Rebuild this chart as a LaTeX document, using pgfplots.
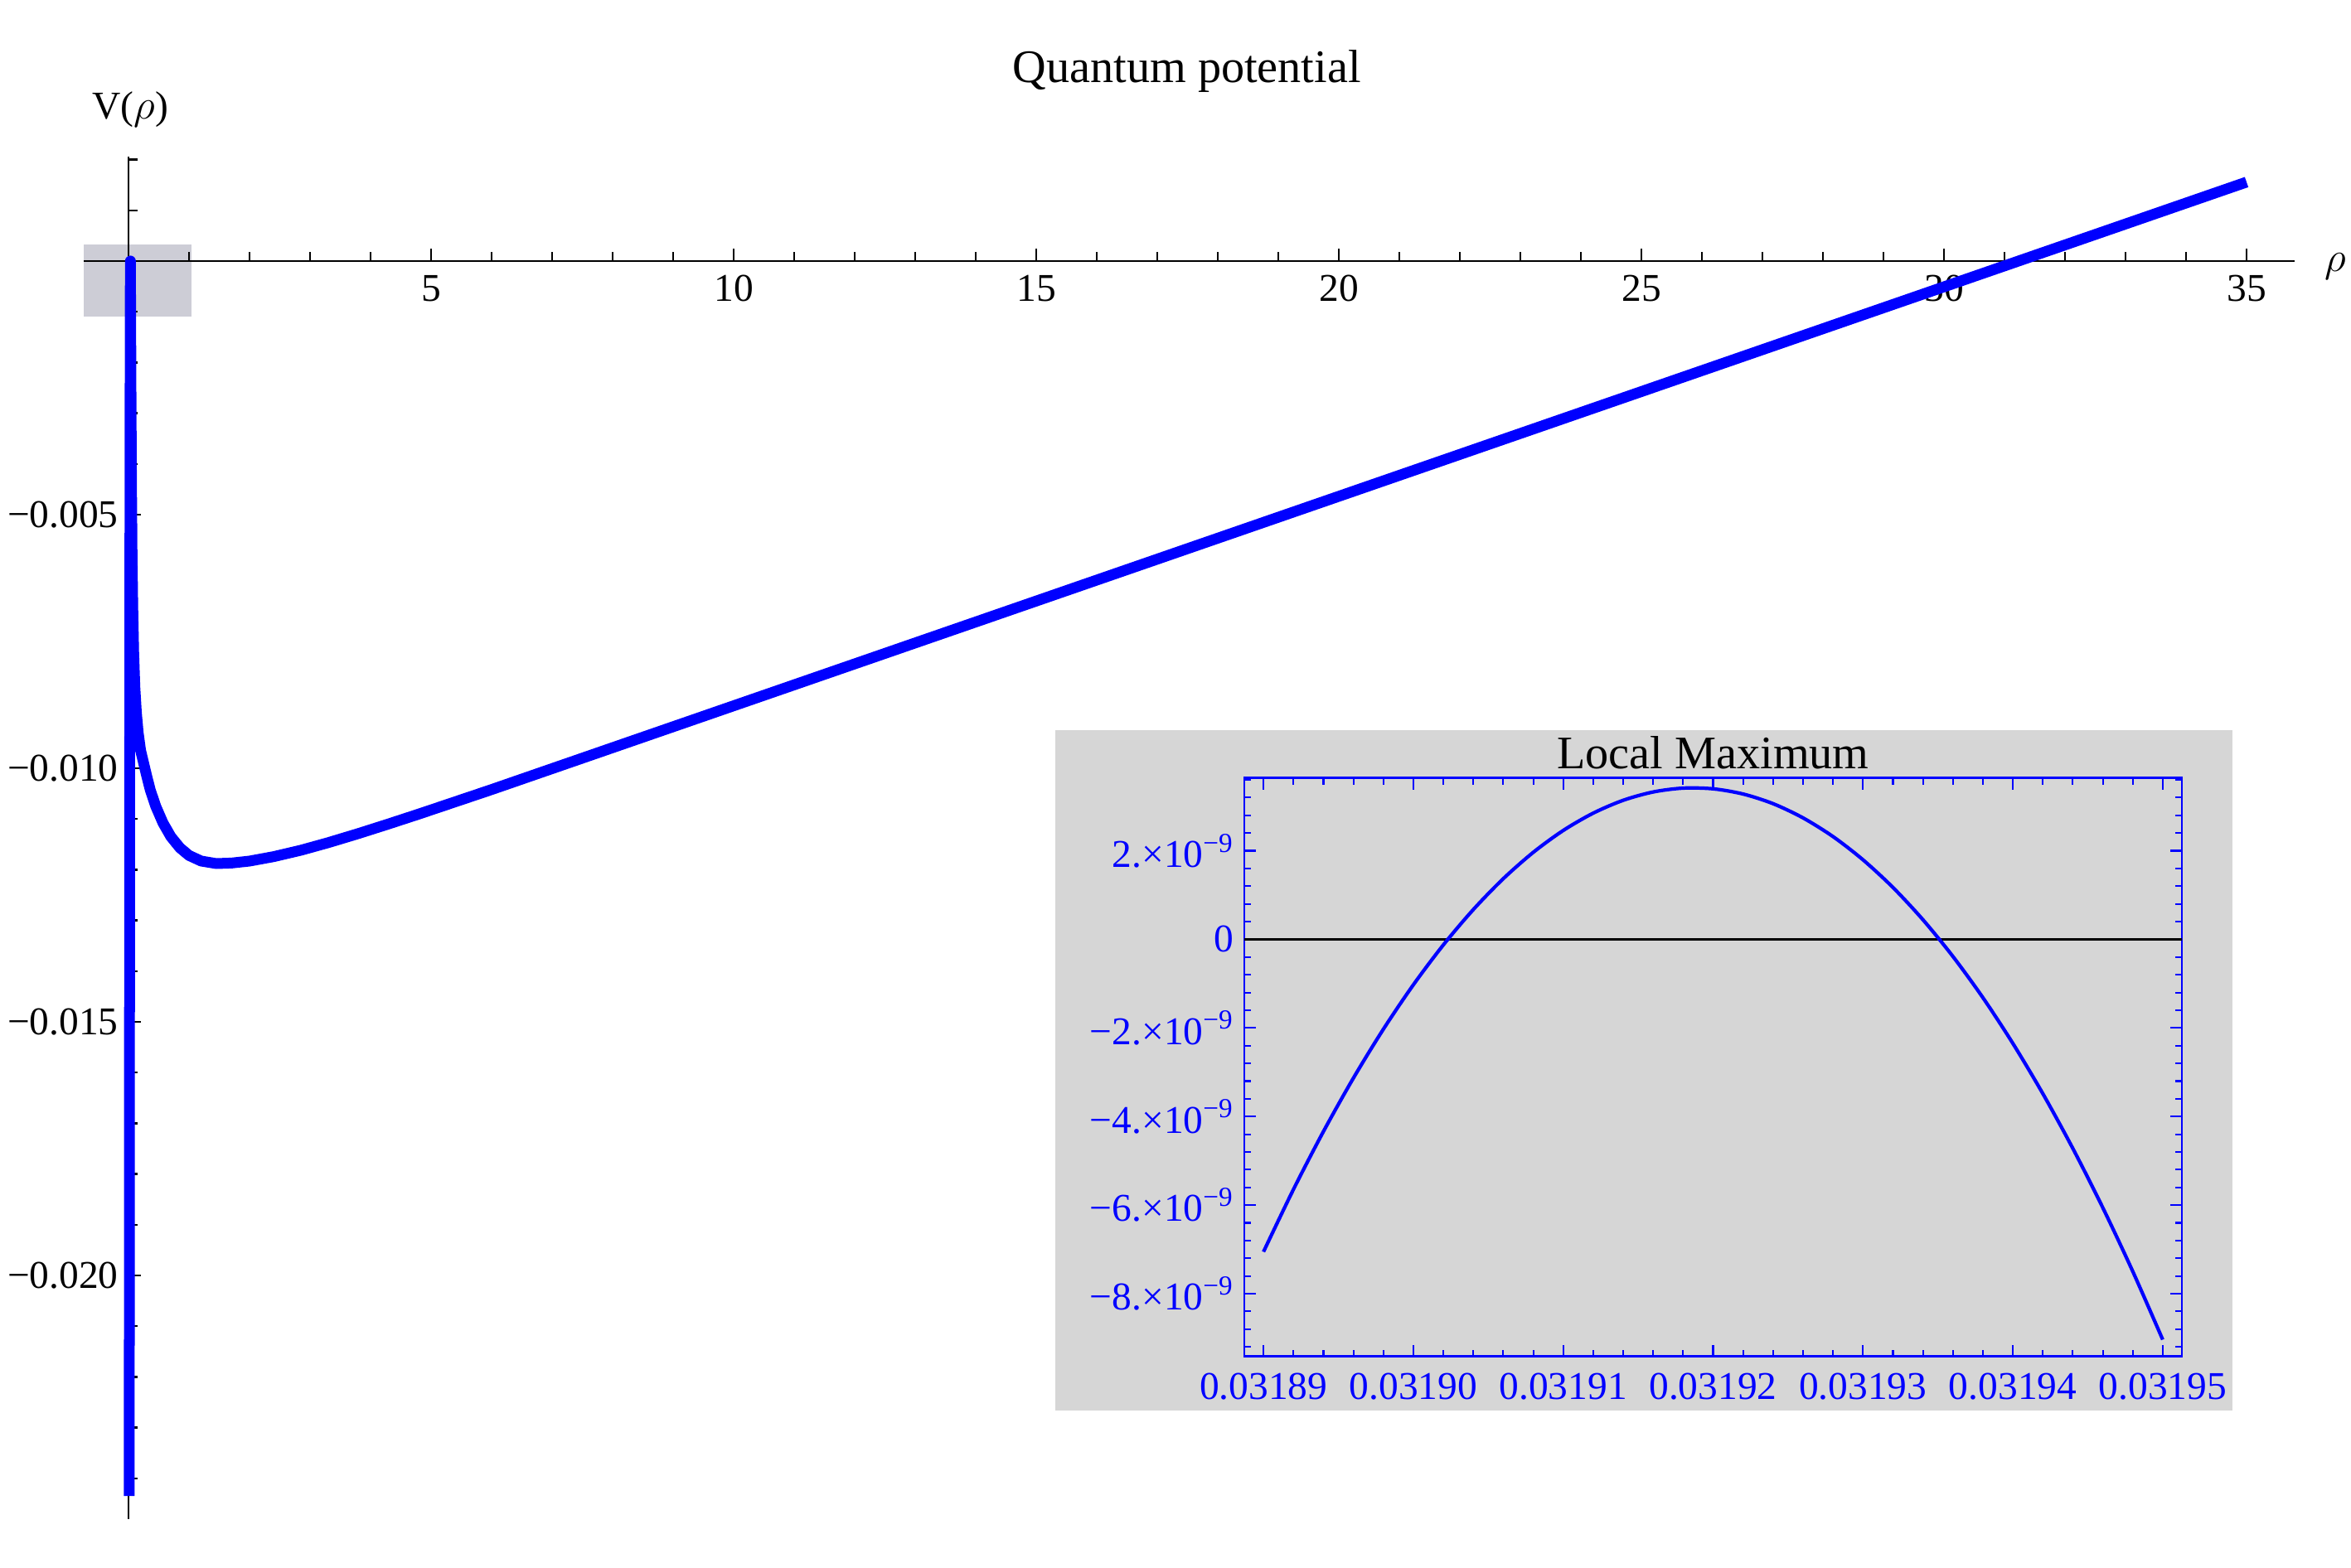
\documentclass[border=0pt]{standalone}
\usepackage{fontspec}
\setmainfont{Liberation Serif}
\usepackage{pgfplots}
\pgfplotsset{compat=1.18}
\usetikzlibrary{calc}
\definecolor{boxgray}{RGB}{205,205,214}
\definecolor{insetgray}{RGB}{214,214,214}
\newcommand{\tickfont}{\fontsize{13.5}{16}\selectfont}
\newcommand{\titlefont}{\fontsize{16}{19}\selectfont}
\begin{document}
\begin{tikzpicture}
\begin{axis}[
  name=main, set layers, scale only axis,
  width=26.674cm, height=16.432cm,
  xmin=-0.74, xmax=35.80, ymin=-0.0248, ymax=0.00205,
  axis lines=middle, axis line style={-, line width=0.8pt, black},
  clip=false, scaled ticks=false,
  /pgf/number format/assume math mode=true,
  xtick={5,10,15,20,25,30,35},
  xticklabels={5,10,15,20,25,30,35},
  xticklabel style={yshift=-0.05cm},
  minor xtick={1,2,...,34},
  ytick={-0.02,-0.015,-0.01,-0.005},
  yticklabels={−0.020,−0.015,−0.010,−0.005},
  minor ytick={-0.024,-0.023,-0.022,-0.021,-0.019,-0.018,-0.017,-0.016,-0.014,-0.013,-0.012,-0.011,-0.009,-0.008,-0.007,-0.006,-0.004,-0.003,-0.002,-0.001,0.001,0.002},
  tick align=inside, major tick length=0.15cm, minor tick length=0.11cm,
  every tick/.style={black, line width=0.7pt},
  tick label style={font=\tickfont},
]
\begin{pgfonlayer}{axis background}
\fill[boxgray] (axis cs:-0.74,0.00033) rectangle (axis cs:1.04,-0.0011);
\end{pgfonlayer}
\fill[insetgray] (axis cs:15.315,-0.009248) rectangle (axis cs:34.767,-0.022663);
\addplot[blue, line width=3.7pt, line join=round, mark=none] table {
x y
0.0120 -0.02435
0.0150 -0.0180
0.0190 -0.0110
0.0230 -0.0060
0.0270 -0.0025
0.0300 -0.0007
0.0319 0.0000
0.0350 -0.0010
0.0400 -0.0024
0.0480 -0.0042
0.0580 -0.0057
0.0700 -0.0068
0.0850 -0.0077
0.1050 -0.0084
0.1300 -0.0089
0.1600 -0.0093
0.2000 -0.00965
0.2500 -0.0099
0.3000 -0.01015
0.3600 -0.01043
0.4500 -0.01075
0.5700 -0.01108
0.7000 -0.01135
0.8500 -0.01157
1.0000 -0.01172
1.2000 -0.01183
1.4500 -0.01188
1.7000 -0.01187
2.0000 -0.011831
2.4000 -0.011743
2.8500 -0.011617
3.3000 -0.011468
3.8000 -0.011288
4.3000 -0.011098
4.8000 -0.010903
6.0000 -0.010421
7.0000 -0.010008
8.0000 -0.009595
10.000 -0.008769
12.000 -0.007943
14.000 -0.007117
17.000 -0.005878
20.000 -0.004639
24.000 -0.002987
28.000 -0.001335
31.000 -0.000096
35.000 0.001556
};
\node[font=\titlefont] at (axis cs:17.49,0.00374) {Quantum potential};
\node[font=\tickfont] at (axis cs:0.03,0.00299) {V($\rho$)};
\node[font=\tickfont] at (axis cs:36.47,-0.0001) {$\rho$};
\end{axis}
\begin{axis}[
  at={($(main.south west)+(14.00cm,1.958cm)$)}, anchor=south west,
  scale only axis, width=11.31cm, height=6.98cm,
  xmin=-0.128, xmax=6.128, ymin=-9.42, ymax=3.64,
  axis line style={blue, line width=0.8pt},
  scaled ticks=false, tick pos=both,
  /pgf/number format/assume math mode=true,
  xtick={0,1,2,3,4,5,6},
  xticklabels={0.03189,0.03190,0.03191,0.03192,0.03193,0.03194,0.03195},
  xticklabel style={yshift=-0.08cm},
  minor xtick={0,0.2,...,6},
  ytick={-8,-6,-4,-2,0,2},
  yticklabels={−8.×10\textsuperscript{−9},−6.×10\textsuperscript{−9},−4.×10\textsuperscript{−9},−2.×10\textsuperscript{−9},0,2.×10\textsuperscript{−9}},
  minor ytick={-9.2,-8.8,...,3.6},
  tick align=inside, major tick length=0.14cm, minor tick length=0.08cm,
  every tick/.style={blue, line width=0.6pt},
  tick label style={font=\tickfont, blue},
  title={Local Maximum},
  title style={font=\titlefont, at={(0.5,1)}, anchor=base, yshift=-0.1cm},
]
\addplot[black, line width=0.7pt, mark=none] coordinates {(-0.128,0) (6.128,0)};
\addplot[blue, line width=1.2pt, mark=none, smooth] table {
x y
0.0 -7.054
0.2 -5.645
0.4 -4.338
0.6 -3.132
0.8 -2.028
1.0 -1.026
1.2 -0.126
1.4 0.672
1.6 1.369
1.8 1.964
2.0 2.458
2.2 2.849
2.4 3.139
2.6 3.327
2.8 3.414
3.0 3.398
3.2 3.281
3.4 3.063
3.6 2.742
3.8 2.320
4.0 1.796
4.2 1.171
4.4 0.443
4.6 -0.386
4.8 -1.316
5.0 -2.349
5.2 -3.483
5.4 -4.719
5.6 -6.057
5.8 -7.496
6.0 -9.037
};
\end{axis}
\pgfresetboundingbox
\path[use as bounding box] ([xshift=-1.01cm,yshift=-0.592cm]main.south west) rectangle ([xshift=0.676cm,yshift=1.895cm]main.north east);
\end{tikzpicture}
\end{document}
